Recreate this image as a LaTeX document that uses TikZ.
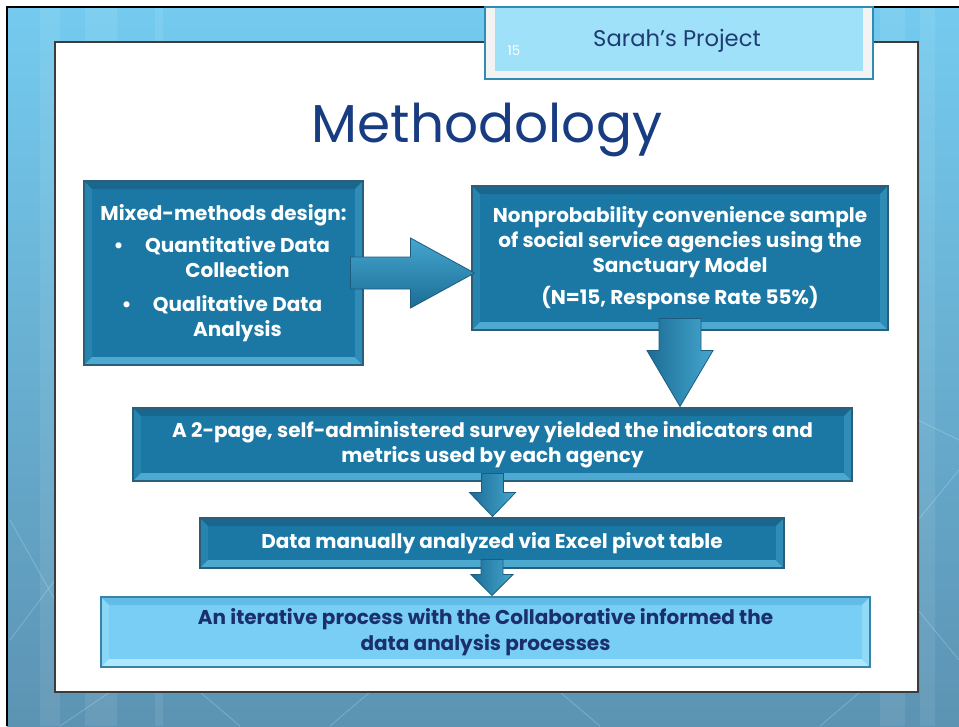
\documentclass[tikz,border=0pt]{standalone}
\usepackage{fontspec}
\setmainfont{Poppins}
\usetikzlibrary{calc}

\definecolor{bgtop}{HTML}{74CBEF}
\definecolor{bgbot}{HTML}{5C93B3}
\definecolor{panelline}{HTML}{3C3C3C}
\definecolor{tabrim}{HTML}{F3F3F3}
\definecolor{tabline}{HTML}{2F8DB3}
\definecolor{tabfill}{HTML}{9FE1F9}
\definecolor{headtext}{HTML}{1F3B73}
\definecolor{titletext}{HTML}{183C82}
\definecolor{boxface}{HTML}{1B78A4}
\definecolor{boxtop}{HTML}{19678F}
\definecolor{boxleft}{HTML}{2684AE}
\definecolor{boxbottom}{HTML}{4EA9D1}
\definecolor{boxright}{HTML}{2E8CB7}
\definecolor{boxline}{HTML}{2A5E7B}
\definecolor{lightface}{HTML}{78CEF4}
\definecolor{lighttop}{HTML}{62BCE5}
\definecolor{lightleft}{HTML}{8AD6F7}
\definecolor{lightbottom}{HTML}{ADE8FC}
\definecolor{lightright}{HTML}{90DAF8}
\definecolor{lightline}{HTML}{3A82A8}
\definecolor{lighttext}{HTML}{1B2F6E}
\definecolor{arrowdark}{HTML}{1B6D95}
\definecolor{arrowlight}{HTML}{45A6CF}
\definecolor{arrowline}{HTML}{1E5C7D}

% bevel edges: top, left, bottom, right
\newcommand\boxbevel[4]{%
  \fill[#1] (path picture bounding box.north west) -- (path picture bounding box.north east)
    -- ([shift={(-6pt,-6pt)}]path picture bounding box.north east) -- ([shift={(6pt,-6pt)}]path picture bounding box.north west) -- cycle;
  \fill[#2] (path picture bounding box.north west) -- (path picture bounding box.south west)
    -- ([shift={(6pt,6pt)}]path picture bounding box.south west) -- ([shift={(6pt,-6pt)}]path picture bounding box.north west) -- cycle;
  \fill[#3] (path picture bounding box.south west) -- (path picture bounding box.south east)
    -- ([shift={(-6pt,6pt)}]path picture bounding box.south east) -- ([shift={(6pt,6pt)}]path picture bounding box.south west) -- cycle;
  \fill[#4] (path picture bounding box.north east) -- (path picture bounding box.south east)
    -- ([shift={(-6pt,6pt)}]path picture bounding box.south east) -- ([shift={(-6pt,-6pt)}]path picture bounding box.north east) -- cycle;
}

\tikzset{
  stage/.style={draw=boxline,line width=0.8pt,fill=boxface,text=white,align=center,inner sep=0pt,
    font=\bfseries\fontsize{15}{19}\selectfont,
    path picture={\boxbevel{boxtop}{boxleft}{boxbottom}{boxright}}},
  laststage/.style={stage,draw=lightline,fill=lightface,text=lighttext,
    path picture={\boxbevel{lighttop}{lightleft}{lightbottom}{lightright}}},
  blockarrow/.style={draw=arrowline,line width=0.6pt},
}

\begin{document}
\begin{tikzpicture}[x=0.75pt,y=-0.75pt]
  \def\U{*0.75pt}
  \useasboundingbox (0,0) rectangle (959,726);
  \fill[white] (0,0) rectangle (959,726);
  % background
  \shade[top color=bgtop,bottom color=bgbot] (7,7) rectangle (959,726);
  \fill[white,opacity=0.08] (40,7) rectangle (60,726) (85,7) rectangle (117,726) (155,7) rectangle (163,726)
    (880,7) rectangle (905,726) (920,7) rectangle (935,726);
  \draw[white,opacity=0.25,line width=0.5pt] (10,520) -- (55,600) (10,640) -- (55,580) (60,726) -- (110,692)
    (200,692) -- (240,726) (330,726) -- (370,692) (560,692) -- (600,726) (820,726) -- (860,692)
    (918,520) -- (959,470) (918,610) -- (959,660) (918,420) -- (959,440);
  \draw[black,line width=1.5pt] (7,726) -- (7,7) -- (959,7);
  % slide panel
  \filldraw[fill=white,draw=panelline,line width=0.8pt] (55,42) rectangle (918,692);
  % header tab
  \filldraw[fill=tabrim,draw=tabline,line width=0.8pt] (485,7) rectangle (873,79);
  \fill[tabfill] (495,8) rectangle (863,71);
  \node[text=white,font=\fontsize{10}{12}\selectfont] (pagenum) at (514,51) {15};
  \node[text=headtext,inner sep=0pt,font=\fontsize{17}{20}\selectfont] (header) at (677,41) {Sarah’s Project};
  \node[text=titletext,inner sep=0pt,font=\fontsize{40}{48}\selectfont] (title) at (487,130) {Methodology};
  % stages
  \node[stage,minimum width=279\U,minimum height=184\U] (design) at (223.5,273)
    {Mixed-methods design:\\[5pt]
     \hspace*{21pt}\llap{\textbullet\hspace{16pt}}Quantitative Data\\
     \hspace*{21pt}Collection\\[6pt]
     \hspace*{21pt}\llap{\textbullet\hspace{16pt}}Qualitative Data\\
     \hspace*{21pt}Analysis};
  \node[stage,minimum width=416\U,minimum height=144\U] (sample) at (680,258)
    {Nonprobability convenience sample\\ of social service agencies using the\\ Sanctuary Model\\[5pt] (N=15, Response Rate 55\%)};
  \node[stage,minimum width=719\U,minimum height=73\U] (survey) at (492.5,444.5)
    {A 2-page, self-administered survey yielded the indicators and\\ metrics used by each agency};
  \node[stage,minimum width=584\U,minimum height=50\U] (pivot) at (492,543)
    {Data manually analyzed via Excel pivot table};
  \node[laststage,minimum width=769\U,minimum height=70\U] (iterate) at (485.5,632)
    {An iterative process with the Collaborative informed the\\ data analysis processes};
  % arrows
  \path[blockarrow,top color=arrowlight,bottom color=arrowdark]
    ($(design.east)+(-13,-16)$) -- ($(design.east)+(47,-16)$) -- ($(design.east)+(47,-35)$)
    -- ($(design.east -| sample.west)+(3,0)$) -- ($(design.east)+(47,35)$) -- ($(design.east)+(47,16)$)
    -- ($(design.east)+(-13,16)$) -- cycle;
  \foreach \a/\b/\s/\h/\t/\n in {sample/survey/21/33/12/20, survey/pivot/11/23/8/11, pivot/iterate/11/21/9/6}
    \path[blockarrow,left color=arrowdark,right color=arrowlight]
      ($(\a.south)+(-\s,-\t)$) -- ($(\a.south)+(-\s,\n)$) -- ($(\a.south)+(-\h,\n)$)
      -- ($(\a.south |- \b.north)+(0,-1)$) -- ($(\a.south)+(\h,\n)$) -- ($(\a.south)+(\s,\n)$)
      -- ($(\a.south)+(\s,-\t)$) -- cycle;
\end{tikzpicture}
\end{document}
